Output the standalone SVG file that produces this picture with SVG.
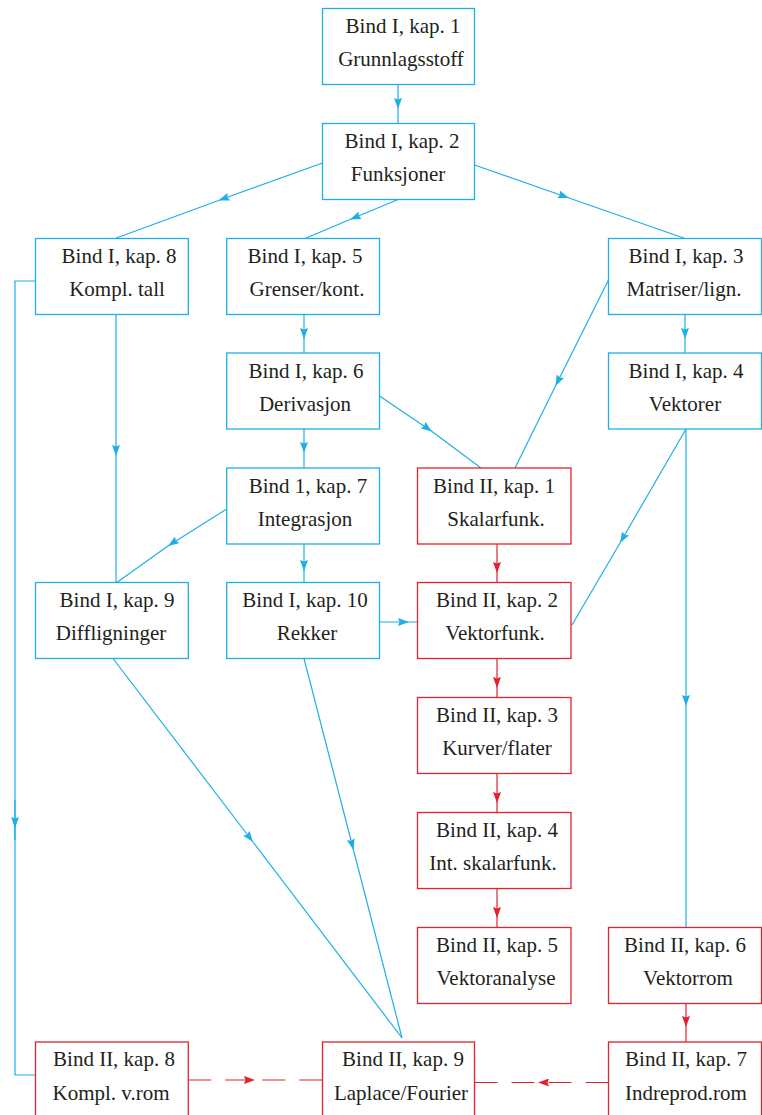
<svg xmlns="http://www.w3.org/2000/svg" width="762" height="1115" viewBox="0 0 762 1115">
<style>
.nb{fill:#fff;stroke:#1db0e8;stroke-width:1.3}
.nr{fill:#fff;stroke:#e2222c;stroke-width:1.3}
text{font-family:"Liberation Serif","Times New Roman",serif;font-size:21px;fill:#231f20;text-anchor:middle}
.eb{fill:none;stroke:#1db0e8;stroke-width:1.2}
.er{fill:none;stroke:#e2222c;stroke-width:1.2}
.eb.m{marker-mid:url(#ab)}
.er.m{marker-mid:url(#ar)}
.d{stroke-dasharray:23 14}
</style>
<defs>
<marker id="ab" markerUnits="userSpaceOnUse" viewBox="0 0 11 8" refX="11" refY="4" markerWidth="11" markerHeight="8" orient="auto"><path d="M0,0 L11,4 L0,8 L1.5,4 z" fill="#1db0e8"/></marker>
<marker id="ar" markerUnits="userSpaceOnUse" viewBox="0 0 11 8" refX="11" refY="4" markerWidth="11" markerHeight="8" orient="auto"><path d="M0,0 L11,4 L0,8 L1.5,4 z" fill="#e2222c"/></marker>
</defs>
<g id="connectors">
<path class="eb m" d="M398,84.5 L398,109 L398,123.5"/>
<path class="eb m" d="M322.5,163 L218.5,200.5 L115,238.5"/>
<path class="eb m" d="M398,199.5 L350,219.5 L305,238.5"/>
<path class="eb m" d="M474.5,165 L569,198 L685,238.5"/>
<path class="eb m" d="M304,314.5 L304,339 L304,353"/>
<path class="eb m" d="M685,314.5 L685,339 L685,353"/>
<path class="eb m" d="M304,429 L304,453 L304,468"/>
<path class="eb m" d="M379.5,396 L432,431.5 L481,468"/>
<path class="eb m" d="M608.5,280 L555.5,386 L515,468"/>
<path class="eb m" d="M686,429 L620,543 L572,625"/>
<path class="eb m" d="M686,429 L686,706 L686,927.5"/>
<path class="eb m" d="M304,544 L304,571 L304,582.5"/>
<path class="eb m" d="M226.7,509 L168,546 L116,583"/>
<path class="eb m" d="M116,314.5 L116,456 L116,582.5"/>
<path class="eb m" d="M379.5,622 L409,622 L417.5,622"/>
<path class="eb m" d="M113,658.5 L253,842 L402,1038"/>
<path class="eb m" d="M304,658.5 L353.5,850 L402,1038"/>
<path class="eb" d="M35.5,281 L15,281 L15,1075 L35.5,1075"/>
<path class="eb m" d="M15,800 L15,828 L15,840"/>
<path class="er m" d="M497,544 L497,573 L497,582.5"/>
<path class="er m" d="M497,658.5 L497,688 L497,697.5"/>
<path class="er m" d="M497,773.5 L497,803 L497,812.5"/>
<path class="er m" d="M497,888.5 L497,918 L497,927.5"/>
<path class="er m" d="M686,1003.5 L686,1027 L686,1042"/>
<path class="er d" d="M188.3,1080 L322.5,1080"/>
<path class="er m" d="M240,1080 L255,1080 L260,1080" style="stroke:none"/>
<path class="er d" d="M608.5,1082.5 L474.5,1082.5"/>
<path class="er m" d="M553,1082.5 L538,1082.5 L533,1082.5" style="stroke:none"/>
</g>
<g id="b1k1"><rect class="nb" x="322.5" y="8.5" width="152" height="76"/><text x="403" y="33">Bind I, kap. 1</text><text x="401" y="66">Grunnlagsstoff</text></g>
<g id="b1k2"><rect class="nb" x="322.5" y="123.5" width="152" height="76"/><text x="402" y="148">Bind I, kap. 2</text><text x="398" y="181">Funksjoner</text></g>
<g id="b1k8"><rect class="nb" x="35.5" y="238.5" width="152.8" height="76"/><text x="119" y="263">Bind I, kap. 8</text><text x="117" y="296">Kompl. tall</text></g>
<g id="b1k5"><rect class="nb" x="226.7" y="238.5" width="152.8" height="76"/><text x="305" y="263">Bind I, kap. 5</text><text x="307" y="296">Grenser/kont.</text></g>
<g id="b1k3"><rect class="nb" x="608.5" y="238.5" width="153" height="76"/><text x="686" y="263">Bind I, kap. 3</text><text x="684" y="296">Matriser/lign.</text></g>
<g id="b1k6"><rect class="nb" x="226.7" y="353" width="152.8" height="76"/><text x="306" y="377.5">Bind I, kap. 6</text><text x="305" y="410.5">Derivasjon</text></g>
<g id="b1k4"><rect class="nb" x="608.5" y="353" width="153" height="76"/><text x="686" y="377.5">Bind I, kap. 4</text><text x="685" y="410.5">Vektorer</text></g>
<g id="b1k7"><rect class="nb" x="226.7" y="468" width="152.8" height="76"/><text x="308" y="492.5">Bind 1, kap. 7</text><text x="305" y="525.5">Integrasjon</text></g>
<g id="b2k1"><rect class="nr" x="417.5" y="468" width="153.5" height="76"/><text x="494" y="492.5">Bind II, kap. 1</text><text x="496" y="525.5">Skalarfunk.</text></g>
<g id="b1k9"><rect class="nb" x="35.5" y="582.5" width="152.8" height="76"/><text x="117" y="607">Bind I, kap. 9</text><text x="111" y="640">Diffligninger</text></g>
<g id="b1k10"><rect class="nb" x="226.7" y="582.5" width="152.8" height="76"/><text x="305" y="607">Bind I, kap. 10</text><text x="307" y="640">Rekker</text></g>
<g id="b2k2"><rect class="nr" x="417.5" y="582.5" width="153.5" height="76"/><text x="497" y="607">Bind II, kap. 2</text><text x="495" y="640">Vektorfunk.</text></g>
<g id="b2k3"><rect class="nr" x="417.5" y="697.5" width="153.5" height="76"/><text x="497" y="722">Bind II, kap. 3</text><text x="497" y="755">Kurver/flater</text></g>
<g id="b2k4"><rect class="nr" x="417.5" y="812.5" width="153.5" height="76"/><text x="497" y="837">Bind II, kap. 4</text><text x="493" y="870">Int. skalarfunk.</text></g>
<g id="b2k5"><rect class="nr" x="417.5" y="927.5" width="153.5" height="76"/><text x="497" y="952">Bind II, kap. 5</text><text x="496" y="985">Vektoranalyse</text></g>
<g id="b2k6"><rect class="nr" x="608.5" y="927.5" width="153" height="76"/><text x="685" y="952">Bind II, kap. 6</text><text x="688" y="985">Vektorrom</text></g>
<g id="b2k8"><rect class="nr" x="35.5" y="1042" width="152.8" height="76"/><text x="114" y="1065.5">Bind II, kap. 8</text><text x="111" y="1099.5">Kompl. v.rom</text></g>
<g id="b2k9"><rect class="nr" x="322.5" y="1042" width="152" height="76"/><text x="403" y="1065.5">Bind II, kap. 9</text><text x="401" y="1099.5">Laplace/Fourier</text></g>
<g id="b2k7"><rect class="nr" x="608.5" y="1042" width="153" height="76"/><text x="686" y="1065.5">Bind II, kap. 7</text><text x="686" y="1099.5">Indreprod.rom</text></g>
</svg>
